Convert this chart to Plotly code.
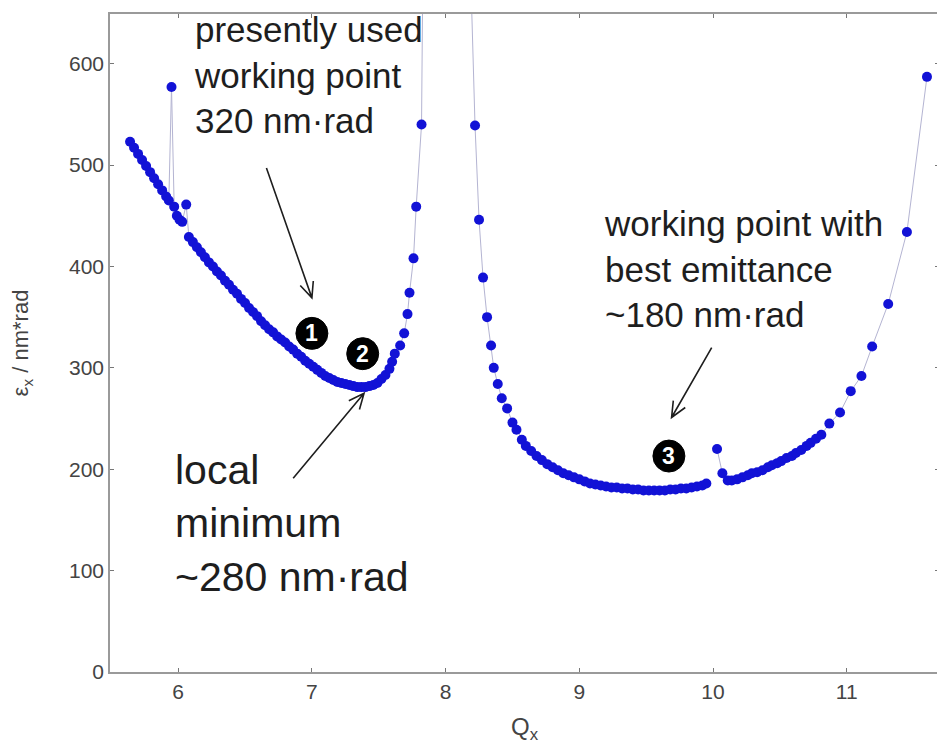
import math
import plotly.graph_objects as go

# ---- data ----
qx = [5.64, 5.67, 5.70, 5.73, 5.76, 5.79, 5.82, 5.85, 5.88, 5.91, 5.93, 5.95, 5.97, 5.99,
      6.01, 6.03, 6.06, 6.08, 6.11, 6.14, 6.17, 6.20, 6.23, 6.26, 6.29, 6.32, 6.35, 6.38,
      6.41, 6.44, 6.47, 6.50, 6.53, 6.56, 6.59, 6.62, 6.65, 6.68, 6.71, 6.74, 6.77, 6.80,
      6.83, 6.86, 6.89, 6.92, 6.95, 6.98, 7.01, 7.04, 7.07, 7.10, 7.13, 7.16, 7.19, 7.22,
      7.25, 7.28, 7.31, 7.34, 7.37, 7.40, 7.43, 7.46, 7.49, 7.52, 7.55, 7.58, 7.60, 7.62,
      7.66, 7.69, 7.715, 7.73, 7.76, 7.78, 7.82, 7.85,
      8.12, 8.22, 8.25, 8.28, 8.31, 8.34, 8.36, 8.39, 8.42, 8.46, 8.50, 8.53, 8.57, 8.60,
      8.64, 8.68, 8.72, 8.76, 8.80, 8.84, 8.88, 8.92, 8.96, 9.00, 9.04, 9.08, 9.12, 9.16,
      9.20, 9.24, 9.28, 9.32, 9.36, 9.40, 9.44, 9.48, 9.52, 9.56, 9.60, 9.64, 9.68, 9.72,
      9.76, 9.80, 9.84, 9.88, 9.92, 9.95, 9.99,
      10.03, 10.07, 10.11, 10.14, 10.18, 10.22, 10.26, 10.29, 10.33, 10.37, 10.41, 10.44,
      10.48, 10.51, 10.55, 10.59, 10.62, 10.66, 10.70, 10.73, 10.77, 10.81, 10.87, 10.95,
      11.03, 11.11, 11.19, 11.31, 11.45, 11.60]
emit_x = [523, 517, 511, 505, 499, 493, 487, 481, 475, 469, 465, 577, 459, 450,
          446, 444, 461, 429, 424, 419, 414, 409, 404, 400, 395, 391, 386, 382,
          377, 373, 368, 364, 359, 355, 351, 346, 342, 338, 335, 331, 328, 325,
          321, 318, 314, 311, 307, 304, 301, 298, 295, 292, 290, 288, 286, 285,
          284, 283, 282, 281, 281, 281, 282, 283, 285, 289, 293, 299, 306, 314,
          322, 334, 353, 374, 408, 459, 540, 1000,
          1000, 539, 446, 389, 350, 322, 300, 284, 270, 260, 246, 239, 229, 223,
          218, 213, 209, 205, 202, 199, 196, 194, 192, 190, 188, 186, 185, 184,
          183, 182, 182, 181, 181, 180, 180, 179, 179, 179, 179, 179, 180, 180,
          181, 181, 182, 183, 184, 186, None,
          220, 196, 189, 189, 190, 192, 194, 196, 197, 199, 202, 204,
          206, 208, 211, 213, 216, 219, 223, 226, 230, 234, 245, 256,
          277, 292, 321, 363, 434, 587]

x_ticks = [6, 7, 8, 9, 10, 11]
y_ticks = [0, 100, 200, 300, 400, 500, 600]

# annotation texts
txt_present = "presently used<br>working point<br>320 nm·rad"
txt_local = "local<br>minimum<br>~280 nm·rad"
txt_best = "working point with<br>best emittance<br>~180 nm·rad"
wp_labels = ["1", "2", "3"]
wp_q = [7.0, 7.38, 9.67]
wp_e = [334, 314, 213]

# arrows: (tail Q, tail eps, head Q, head eps)
arrows = [(6.66, 497, 7.00, 369),
          (6.86, 191, 7.39, 275),
          (9.99, 320, 9.69, 251)]

FONT = "Liberation Sans, Arial, Helvetica, sans-serif"

W, H = 937, 740
ML, MR, MT, MB = 102, 4, 4, 76
XR = [5.49, 11.69]
YR = [0, 649]
px_per_x = (W - ML - MR) / (XR[1] - XR[0])
px_per_y = (H - MT - MB) / (YR[1] - YR[0])

fig = go.Figure()
fig.add_trace(go.Scatter(
    x=qx, y=emit_x, mode="lines+markers",
    line=dict(color="#b4b4d2", width=1),
    marker=dict(color="#1212d6", size=10),
    connectgaps=False, showlegend=False, hoverinfo="x+y"))

shapes = []
annotations = []
for lab, q, e in zip(wp_labels, wp_q, wp_e):
    shapes.append(dict(type="circle", xref="x", yref="y", xsizemode="pixel", ysizemode="pixel",
                       xanchor=q, yanchor=e, x0=-16, x1=16, y0=-16, y1=16,
                       fillcolor="black", line=dict(color="black", width=1)))
    annotations.append(dict(x=q, y=e, xref="x", yref="y", text="<b>%s</b>" % lab,
                            showarrow=False, font=dict(family=FONT, size=23, color="white"),
                            xanchor="center", yanchor="middle"))

# arrows drawn as a shaft plus an open V head
HEAD_LEN = 17.0
HEAD_ANG = math.radians(24)
for tq, te, hq, he in arrows:
    dx = (hq - tq) * px_per_x
    dy = (he - te) * px_per_y
    L = math.hypot(dx, dy)
    ux, uy = dx / L, dy / L
    wings = []
    for s in (1, -1):
        ca, sa = math.cos(s * HEAD_ANG), math.sin(s * HEAD_ANG)
        rx = ux * ca - uy * sa
        ry = ux * sa + uy * ca
        wings.append((hq - rx * HEAD_LEN / px_per_x, he - ry * HEAD_LEN / px_per_y))
    path = "M %f,%f L %f,%f M %f,%f L %f,%f L %f,%f" % (
        tq, te, hq, he, wings[0][0], wings[0][1], hq, he, wings[1][0], wings[1][1])
    shapes.append(dict(type="path", xref="x", yref="y", path=path,
                       line=dict(color="#1e1e1e", width=1.6)))

annotations += [
    dict(x=6.10, y=589, xref="x", yref="y", text=txt_present, showarrow=False, align="left",
         xanchor="left", yanchor="middle", font=dict(family=FONT, size=35, color="#1e1e1e")),
    dict(x=5.96, y=146, xref="x", yref="y", text=txt_local, showarrow=False, align="left",
         xanchor="left", yanchor="middle", font=dict(family=FONT, size=41, color="#1e1e1e")),
    dict(x=9.17, y=397, xref="x", yref="y", text=txt_best, showarrow=False, align="left",
         xanchor="left", yanchor="middle", font=dict(family=FONT, size=35, color="#1e1e1e")),
]

axis_common = dict(showgrid=False, zeroline=False, showline=True, linecolor="#9a9a9a",
                   linewidth=1.5, mirror="ticks", ticks="inside", ticklen=4, tickcolor="#777",
                   tickfont=dict(family=FONT, size=21, color="#444"))

fig.update_layout(
    width=W, height=H,
    margin=dict(l=ML, r=MR, t=MT, b=MB),
    paper_bgcolor="white", plot_bgcolor="white",
    xaxis=dict(range=XR, tickvals=x_ticks, ticktext=[str(v) for v in x_ticks],
               title=dict(text="Q<sub>x</sub>", font=dict(family=FONT, size=24, color="#444"),
                          standoff=16),
               **axis_common),
    yaxis=dict(range=YR, tickvals=y_ticks, ticktext=[str(v) for v in y_ticks],
               title=dict(text="ε<sub>x</sub> / nm*rad", font=dict(family=FONT, size=22, color="#444"),
                          standoff=36),
               **axis_common),
    shapes=shapes,
    annotations=annotations,
)

fig.write_html("out.html")
